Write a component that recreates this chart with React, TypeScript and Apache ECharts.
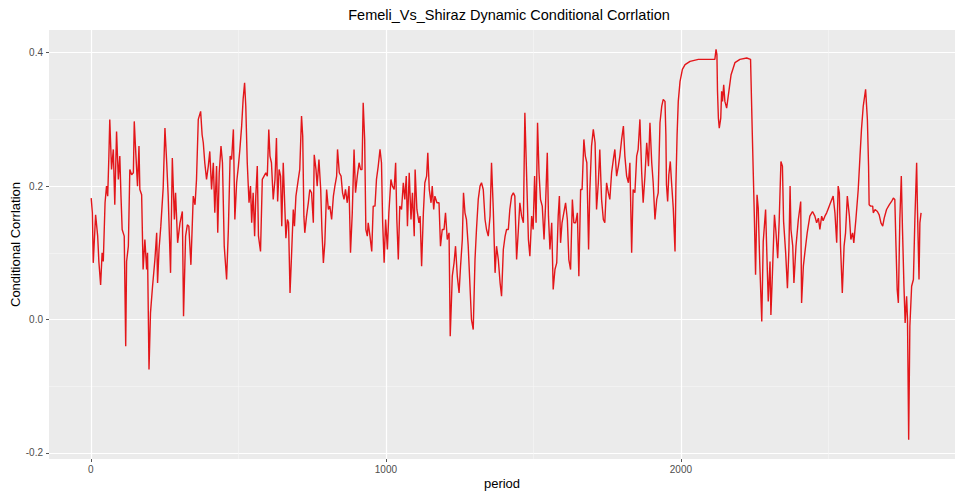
import React, { useEffect, useRef } from "react";
import * as echarts from "echarts";

const chartTitle = "Femeli_Vs_Shiraz Dynamic Conditional Corrlation";
const xTitle = "period";
const yTitle = "Conditional Corrlation";

// axis limits (ggplot default 5% expansion around the data)
const xLimits = [-142, 2929];
const yLimits = [-0.209, 0.434];

const period = [
  1, 5, 8, 16, 23, 27, 33, 38, 42, 48, 53, 57, 61, 64, 70, 76, 81, 87, 93, 98,
  102, 106, 113, 118, 121, 127, 132, 138, 144, 147, 151, 158, 163, 166, 172, 177, 183, 189, 192, 197,
  202, 209, 217, 223, 226, 231, 237, 245, 251, 257, 262, 270, 276, 283, 287, 294, 302, 310, 314, 321,
  327, 332, 339, 347, 353, 358, 364, 372, 377, 381, 386, 392, 398, 403, 409, 415, 420, 426, 430, 435,
  441, 446, 452, 460, 466, 472,
  477, 483, 488, 494, 500, 505, 511, 516, 521, 525, 530, 536, 541, 545, 550, 555, 559, 564, 568, 575,
  581, 587, 593, 598, 603, 607, 612, 618, 624, 629, 633, 638, 643, 647, 652, 658, 661, 666, 670, 675,
  680, 686, 690, 695, 703, 708, 714, 718, 722, 725, 731, 737, 742, 748, 754, 757, 763, 767, 773, 779,
  783, 788, 793, 799, 805, 810, 816, 822, 827, 833, 836, 842, 848, 853, 858, 863, 869, 875, 880, 886,
  892, 897, 903, 909, 914, 919, 923, 928, 932, 937, 940, 946, 952, 957,
  963, 968, 974, 980, 985, 989, 994, 999, 1005, 1010, 1017, 1022, 1028, 1033, 1037, 1042, 1047, 1053, 1059, 1064,
  1069, 1073, 1079, 1085, 1090, 1096, 1099, 1105, 1112, 1116, 1121, 1127, 1132, 1138, 1142, 1147, 1153, 1157, 1162, 1166,
  1173, 1180, 1185, 1191, 1197, 1202, 1208, 1214, 1218, 1225, 1231, 1236, 1242, 1248, 1253, 1259, 1263, 1268, 1273, 1279,
  1285, 1290, 1296, 1302, 1307, 1313, 1319, 1324, 1330, 1336, 1341, 1347, 1353, 1358, 1364, 1370, 1375, 1381, 1387, 1392,
  1398, 1404, 1409, 1415, 1420, 1426, 1432, 1437, 1443, 1449,
  1454, 1460, 1466, 1471, 1477, 1483, 1488, 1494, 1499, 1504, 1509, 1514, 1519, 1524, 1530, 1536, 1541, 1547, 1551, 1556,
  1562, 1567, 1573, 1579, 1584, 1588, 1592, 1597, 1603, 1609, 1615, 1620, 1626, 1632, 1637, 1643, 1649, 1654, 1660, 1665,
  1671, 1676, 1681, 1687, 1691, 1697, 1703, 1709, 1714, 1720, 1725, 1731, 1737, 1742, 1748, 1754, 1759, 1765, 1771, 1776,
  1782, 1788, 1793, 1799, 1805, 1810, 1816, 1822, 1827, 1833, 1838, 1844, 1850, 1855, 1861, 1867, 1872, 1878, 1884, 1890,
  1895, 1901, 1906, 1912, 1918, 1923, 1929, 1935, 1940,
  1946, 1949, 1951, 1955, 1959, 1964, 1968, 1974, 1980, 1983, 1987, 1991, 1997, 2005, 2014, 2031, 2059, 2093, 2115, 2119,
  2122, 2124, 2127, 2130, 2135, 2138, 2141, 2145, 2149, 2155, 2161, 2170, 2183, 2200, 2223, 2236, 2242, 2249, 2253, 2258,
  2262, 2267, 2274, 2279, 2287, 2292, 2296, 2302, 2305, 2310, 2317, 2322, 2328, 2333, 2339, 2344, 2348, 2355, 2361, 2366,
  2370, 2373, 2379, 2383, 2390, 2398, 2406, 2409, 2415, 2420, 2428, 2437, 2446, 2454, 2460, 2466, 2471, 2477, 2482, 2488,
  2494, 2500, 2507, 2516, 2522, 2528, 2533, 2537, 2541, 2547, 2553, 2558, 2564, 2571, 2576, 2582, 2586, 2593, 2601, 2607,
  2612, 2618, 2626, 2632, 2636, 2638, 2643, 2650, 2652, 2658, 2666, 2672, 2678, 2684, 2689, 2697, 2706, 2714, 2720, 2725,
  2729, 2733, 2737, 2742, 2747, 2751, 2756, 2760, 2765, 2768, 2772, 2776, 2782, 2788, 2793, 2799, 2802, 2807, 2810, 2814,
];

const dcc = [
  0.182, 0.160, 0.085, 0.157, 0.125, 0.087, 0.052, 0.100, 0.087, 0.175, 0.200, 0.185, 0.245, 0.300, 0.225, 0.255, 0.172, 0.282, 0.210, 0.245,
  0.185, 0.135, 0.125, -0.040, 0.087, 0.110, 0.225, 0.217, 0.220, 0.297, 0.260, 0.200, 0.260, 0.195, 0.187, 0.075, 0.120, 0.075, 0.100, -0.075,
  0.010, 0.050, 0.090, 0.130, 0.055, 0.105, 0.140, 0.197, 0.287, 0.235, 0.185, 0.070, 0.242, 0.150, 0.190, 0.115, 0.145, 0.162, 0.005, 0.125,
  0.142, 0.140, 0.082, 0.185, 0.172, 0.210, 0.300, 0.312, 0.277, 0.265, 0.235, 0.210, 0.230, 0.252, 0.195, 0.235, 0.160, 0.230, 0.130, 0.220,
  0.260, 0.235, 0.110, 0.060, 0.135, 0.245,
  0.240, 0.285, 0.150, 0.205, 0.230, 0.255, 0.290, 0.330, 0.355, 0.320, 0.235, 0.175, 0.200, 0.145, 0.190, 0.125, 0.185, 0.230, 0.125, 0.102,
  0.210, 0.215, 0.220, 0.215, 0.285, 0.245, 0.235, 0.180, 0.210, 0.272, 0.177, 0.225, 0.215, 0.140, 0.235, 0.160, 0.122, 0.150, 0.145, 0.040,
  0.095, 0.165, 0.140, 0.185, 0.210, 0.225, 0.305, 0.275, 0.155, 0.130, 0.155, 0.175, 0.195, 0.190, 0.145, 0.247, 0.225, 0.200, 0.240, 0.195,
  0.135, 0.085, 0.115, 0.195, 0.165, 0.170, 0.150, 0.185, 0.200, 0.215, 0.255, 0.220, 0.215, 0.190, 0.180, 0.195, 0.175, 0.200, 0.100, 0.160,
  0.255, 0.190, 0.215, 0.235, 0.225, 0.225, 0.325, 0.270, 0.135, 0.125, 0.145, 0.125, 0.102, 0.170,
  0.170, 0.210, 0.230, 0.255, 0.235, 0.145, 0.085, 0.150, 0.105, 0.160, 0.210, 0.200, 0.195, 0.235, 0.150, 0.090, 0.170, 0.165, 0.205, 0.180,
  0.215, 0.140, 0.220, 0.150, 0.190, 0.125, 0.225, 0.165, 0.145, 0.155, 0.080, 0.160, 0.205, 0.215, 0.250, 0.195, 0.175, 0.200, 0.165, 0.185,
  0.175, 0.175, 0.110, 0.135, 0.135, 0.160, 0.120, 0.130, -0.025, 0.065, 0.085, 0.110, 0.065, 0.040, 0.080, 0.120, 0.190, 0.160, 0.150, 0.110,
  0.050, 0.000, -0.015, 0.090, 0.135, 0.180, 0.200, 0.205, 0.195, 0.150, 0.135, 0.125, 0.155, 0.235, 0.165, 0.070, 0.110, 0.090, 0.055, 0.035,
  0.105, 0.125, 0.135, 0.135, 0.165, 0.185, 0.190, 0.185, 0.090, 0.135,
  0.175, 0.155, 0.145, 0.310, 0.215, 0.120, 0.095, 0.155, 0.135, 0.215, 0.145, 0.295, 0.220, 0.180, 0.170, 0.120, 0.170, 0.250, 0.155, 0.105,
  0.145, 0.045, 0.075, 0.085, 0.155, 0.185, 0.115, 0.145, 0.160, 0.175, 0.150, 0.090, 0.075, 0.180, 0.145, 0.145, 0.160, 0.065, 0.195, 0.195,
  0.270, 0.245, 0.235, 0.105, 0.190, 0.260, 0.285, 0.265, 0.165, 0.205, 0.255, 0.180, 0.150, 0.145, 0.205, 0.190, 0.180, 0.220, 0.240, 0.255,
  0.215, 0.230, 0.245, 0.270, 0.290, 0.245, 0.215, 0.205, 0.235, 0.100, 0.195, 0.190, 0.245, 0.255, 0.300, 0.220, 0.175, 0.215, 0.265, 0.230,
  0.295, 0.235, 0.205, 0.150, 0.180, 0.190, 0.295, 0.320, 0.330,
  0.327, 0.277, 0.202, 0.177, 0.217, 0.237, 0.207, 0.167, 0.102, 0.202, 0.277, 0.327, 0.357, 0.375, 0.382, 0.387, 0.390, 0.390, 0.390, 0.405,
  0.397, 0.342, 0.302, 0.287, 0.302, 0.342, 0.327, 0.352, 0.327, 0.317, 0.337, 0.367, 0.385, 0.390, 0.392, 0.390, 0.277, 0.152, 0.067, 0.187,
  0.167, 0.087, -0.003, 0.117, 0.165, 0.087, 0.027, 0.087, 0.007, 0.067, 0.157, 0.132, 0.092, 0.147, 0.237, 0.230, 0.147, 0.100, 0.047, 0.105,
  0.200, 0.135, 0.110, 0.055, 0.110, 0.150, 0.177, 0.025, 0.080, 0.100, 0.130, 0.155, 0.162, 0.155, 0.145, 0.152, 0.135, 0.155, 0.148, 0.155,
  0.160, 0.167, 0.175, 0.185, 0.160, 0.115, 0.200, 0.190, 0.110, 0.040, 0.110, 0.130, 0.185, 0.155, 0.120, 0.130, 0.115, 0.150, 0.195, 0.245,
  0.285, 0.320, 0.345, 0.300, 0.230, 0.172, 0.170, 0.170, 0.160, 0.165, 0.162, 0.157, 0.145, 0.140, 0.152, 0.165, 0.172, 0.177, 0.182, 0.180,
  0.110, 0.045, 0.025, 0.150, 0.215, 0.135, 0.050, -0.005, 0.035, 0.000, -0.180, -0.010, 0.050, 0.060, 0.150, 0.235, 0.160, 0.060, 0.145, 0.160,
];

export default function App() {
  const ref = useRef<HTMLDivElement>(null);

  useEffect(() => {
    if (!ref.current) return;
    const chart = echarts.init(ref.current, undefined, { renderer: "svg" });
    const font = "'Liberation Sans', Arial, sans-serif";
    const seriesData = period.map((p, i) => [p, dcc[i]]);

    const hidden = {
      axisLine: { show: false, onZero: false },
      axisTick: { show: false },
      axisLabel: { show: false },
    };
    const invisibleLine = { show: true, onZero: false, lineStyle: { color: "rgba(0,0,0,0)", width: 0 } };

    chart.setOption({
      animation: false,
      backgroundColor: "#ffffff",
      title: {
        text: chartTitle,
        left: 504,
        textAlign: "center",
        top: 2,
        textStyle: { fontFamily: font, fontSize: 14.5, fontWeight: "normal", color: "#000000" },
      },
      grid: {
        left: 49,
        right: 0,
        top: 30,
        bottom: 36,
        show: true,
        backgroundColor: "#EBEBEB",
        borderWidth: 0,
        containLabel: false,
        outerBoundsMode: "none",
      },
      xAxis: [
        {
          type: "value",
          position: "bottom",
          min: xLimits[0],
          max: xLimits[1],
          splitNumber: 6,
          ...hidden,
          splitLine: { show: true, showMinLine: false, showMaxLine: false, lineStyle: { color: "#F7F7F7", width: 0.6 } },
        },
        {
          type: "value",
          position: "bottom",
          offset: 0,
          min: xLimits[0],
          max: xLimits[1],
          splitNumber: 3,
          name: xTitle,
          nameLocation: "middle",
          nameGap: 18,
          nameMoveOverlap: false,
          nameTextStyle: { fontFamily: font, fontSize: 13, color: "#000000" },
          axisLine: invisibleLine,
          axisTick: { show: true, inside: false, length: 3, lineStyle: { color: "#555555", width: 1 } },
          axisLabel: {
            showMinLabel: false,
            showMaxLabel: false,
            margin: 5,
            fontFamily: font,
            fontSize: 10,
            color: "#4D4D4D",
            formatter: (v: number) => String(v),
          },
          splitLine: { show: true, showMinLine: false, showMaxLine: false, lineStyle: { color: "#FFFFFF", width: 1.2 } },
        },
      ],
      yAxis: [
        {
          type: "value",
          position: "left",
          min: yLimits[0],
          max: yLimits[1],
          splitNumber: 6,
          ...hidden,
          splitLine: { show: true, showMinLine: false, showMaxLine: false, lineStyle: { color: "#F7F7F7", width: 0.6 } },
        },
        {
          type: "value",
          position: "left",
          offset: 0,
          min: yLimits[0],
          max: yLimits[1],
          splitNumber: 3,
          name: yTitle,
          nameLocation: "middle",
          nameRotate: 90,
          nameGap: 27,
          nameMoveOverlap: false,
          nameTextStyle: { fontFamily: font, fontSize: 13, color: "#000000" },
          axisLine: invisibleLine,
          axisTick: { show: true, inside: false, length: 3, lineStyle: { color: "#555555", width: 1 } },
          axisLabel: {
            showMinLabel: false,
            showMaxLabel: false,
            margin: 6,
            fontFamily: font,
            fontSize: 10,
            color: "#4D4D4D",
            formatter: (v: number) => v.toFixed(1),
          },
          splitLine: { show: true, showMinLine: false, showMaxLine: false, lineStyle: { color: "#FFFFFF", width: 1.2 } },
        },
      ],
      series: [
        {
          type: "line",
          xAxisIndex: 1,
          yAxisIndex: 1,
          data: seriesData,
          showSymbol: false,
          symbol: "none",
          smooth: false,
          lineStyle: { color: "#E3161A", width: 1.4 },
          itemStyle: { color: "#E3161A" },
          silent: true,
        },
      ],
    });

    return () => chart.dispose();
  }, []);

  return (
    <div
      ref={ref}
      style={{ position: "absolute", left: 0, top: 0, width: 955, height: 495 }}
    />
  );
}
